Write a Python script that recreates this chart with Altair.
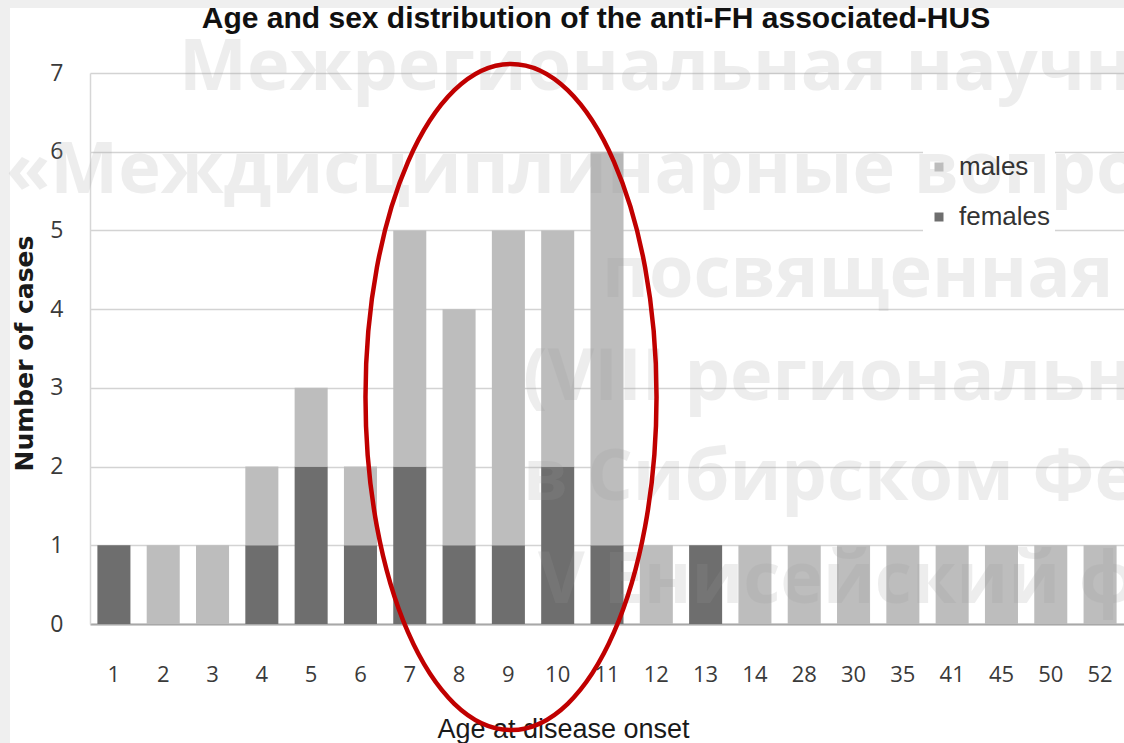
import altair as alt
import pandas as pd

# Age at disease onset (x categories) and number of cases by sex
ages = ["1", "2", "3", "4", "5", "6", "7", "8", "9", "10", "11", "12", "13",
        "14", "28", "30", "35", "41", "45", "50", "52"]
females = [1, 0, 0, 1, 2, 1, 2, 1, 1, 2, 1, 0, 1, 0, 0, 0, 0, 0, 0, 0, 0]
males = [0, 1, 1, 1, 1, 1, 3, 3, 4, 3, 5, 1, 0, 1, 1, 1, 1, 1, 1, 1, 1]
sexes = ["males", "females"]
sex_colors = ["#bdbdbd", "#6e6e6e"]

title_text = "Age and sex distribution of the anti-FH associated-HUS"
watermark_lines = [
    "Межрегиональная научно-практическая",
    "«Междисциплинарные вопросы",
    "посвященная",
    "(VIII региональный",
    "в Сибирском Федеральном",
    "V Енисейский форум",
]

rows = []
for a, f, m in zip(ages, females, males):
    rows.append({"age": a, "sex": "females", "count": f, "rank": 0})
    rows.append({"age": a, "sex": "males", "count": m, "rank": 1})
df = pd.DataFrame(rows)

W, H = 1034, 551
one = pd.DataFrame({"k": [0]})

# thin grey strips along the left and top page edges
edge_left = alt.Chart(one).mark_rect(color="#efefef").encode(
    x=alt.value(-90), x2=alt.value(-80), y=alt.value(-73), y2=alt.value(H + 119)
)
edge_top = alt.Chart(one).mark_rect(color="#efefef").encode(
    x=alt.value(-90), x2=alt.value(W), y=alt.value(-73), y2=alt.value(-65)
)

# white box behind the legend entries
legend_box = alt.Chart(one).mark_rect(color="white").encode(
    x=alt.value(833), x2=alt.value(965), y=alt.value(67), y2=alt.value(167)
)

bars = alt.Chart(df).mark_bar().encode(
    x=alt.X(
        "age:N", sort=ages,
        scale=alt.Scale(paddingInner=0.33, paddingOuter=0.15),
        axis=alt.Axis(
            labelAngle=0, ticks=False, grid=False,
            domain=True, domainColor="#a8a8a8", domainWidth=2,
            labelFont="Open Sans", labelFontSize=22, labelColor="#3a3a3a",
            labelPadding=40,
            title="Age at disease onset", titleFont="Liberation Sans",
            titleFontSize=27, titleFontWeight="normal", titleColor="#1a1a1a",
            titleX=473, titleY=113, titleBaseline="alphabetic",
            titleAlign="center",
        ),
    ),
    y=alt.Y(
        "count:Q", stack="zero",
        scale=alt.Scale(domain=[0, 7], nice=False),
        axis=alt.Axis(
            values=list(range(8)), ticks=False,
            grid=True, gridColor="#d3d3d3", gridWidth=1.5,
            domain=True, domainColor="#d6d6d6", domainWidth=1.5,
            labelFont="Open Sans", labelFontSize=23, labelColor="#3a3a3a",
            labelPadding=27,
            title="Number of cases", titleFont="DejaVu Sans",
            titleFontSize=25, titleFontWeight="bold", titleColor="#1a1a1a",
            titleX=-58, titleY=280, titleAngle=270, titleAlign="center",
            titleBaseline="alphabetic",
        ),
    ),
    color=alt.Color(
        "sex:N",
        scale=alt.Scale(domain=sexes, range=sex_colors),
        legend=alt.Legend(
            orient="none", legendX=836, legendY=81, title=None,
            symbolType="square", symbolSize=81, symbolStrokeWidth=0,
            labelFont="Liberation Sans", labelFontSize=26, labelColor="#333333",
            labelOffset=7, rowPadding=24, padding=0,
        ),
    ),
    order=alt.Order("rank:Q"),
)

# translucent watermark lines
wm_pos = [(89, 17), (-84, 120), (512, 224), (433, 327), (433, 427), (448, 530)]
watermarks = []
for text, (px, py) in zip(watermark_lines, wm_pos):
    watermarks.append(
        alt.Chart(one).mark_text(
            text=text, font="Open Sans", fontSize=72, fontWeight="bold",
            color="#9a9a9a", opacity=0.17, align="left", baseline="alphabetic",
        ).encode(x=alt.value(px), y=alt.value(py))
    )

# red ellipse highlighting ages 7-11
a = 0.437
k = 0.5523
ka = round(k * a, 4)
ellipse_path = (
    f"M0,-1 C{ka},-1 {a},-{k} {a},0 C{a},{k} {ka},1 0,1 "
    f"C-{ka},1 -{a},{k} -{a},0 C-{a},-{k} -{ka},-1 0,-1 Z"
)
ellipse = alt.Chart(one).mark_point(
    shape=ellipse_path, filled=False, color="#c00000", opacity=1,
    strokeWidth=4.5, size=666 * 666,
).encode(x=alt.value(421), y=alt.value(324))

title = alt.Chart(one).mark_text(
    text=title_text, font="Liberation Sans", fontSize=30, fontWeight="bold",
    color="#111111", align="center", baseline="alphabetic",
).encode(x=alt.value(506), y=alt.value(-45))

chart = alt.layer(
    edge_left, edge_top, legend_box, bars, *watermarks, ellipse, title
).properties(
    width=W, height=H,
    autosize=alt.AutoSizeParams(type="none"),
    padding={"left": 90, "top": 73, "right": 0, "bottom": 119},
    background="white",
).configure_view(stroke=None)

chart.save("out.html", embed_options={"renderer": "svg", "actions": False})
